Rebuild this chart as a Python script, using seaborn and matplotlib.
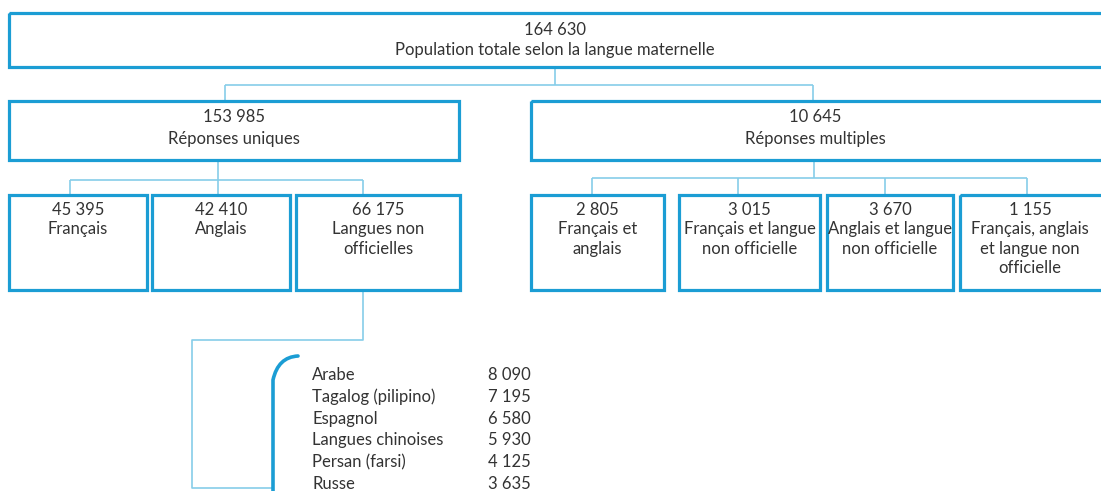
import numpy as np
import matplotlib.pyplot as plt
import seaborn as sns
from matplotlib.patches import Rectangle, PathPatch
from matplotlib.path import Path

sns.set_theme(style="white")
plt.rcParams['font.family'] = ['Lato', 'DejaVu Sans']

# Data
total_value = "164 630"
total_label = "Population totale selon la langue maternelle"
level2_values = ["153 985", "10 645"]
level2_labels = ["Réponses uniques", "Réponses multiples"]
single_values = ["45 395", "42 410", "66 175"]
single_labels = ["Français", "Anglais", "Langues non\nofficielles"]
multi_values = ["2 805", "3 015", "3 670", "1 155"]
multi_labels = ["Français et\nanglais", "Français et langue\nnon officielle",
                "Anglais et langue\nnon officielle",
                "Français, anglais\net langue non\nofficielle"]
languages = ["Arabe", "Tagalog (pilipino)", "Espagnol", "Langues chinoises",
             "Persan (farsi)", "Russe"]
language_counts = ["8 090", "7 195", "6 580", "5 930", "4 125", "3 635"]

# Layout (pixel coordinates)
BOX = "#1b9dd4"
LINK = "#86cde9"
TXT = "#333333"
FS = 12

fig = plt.figure(figsize=(11.01, 4.91), dpi=100)
ax = fig.add_axes([0, 0, 1, 1])
ax.set_xlim(0, 1101)
ax.set_ylim(491, 0)
ax.axis('off')


def box(x0, x1, y0, y1):
    ax.add_patch(Rectangle((x0, y0), x1 - x0, y1 - y0, fill=False,
                           edgecolor=BOX, lw=2.3, zorder=3))


def link(xs, ys):
    ax.plot(xs, ys, color=LINK, lw=1.2, zorder=2, solid_capstyle='butt')


def lines(cx, y0, step, text):
    for i, s in enumerate(text.split("\n")):
        ax.text(cx, y0 + i * step, s, ha='center', va='center',
                fontsize=FS, color=TXT)


# level 1
box(9, 1110, 13, 67)
lines(555, 30, 20, total_value + "\n" + total_label)

# level 2
l2_boxes = [(9, 459), (531, 1110)]
l2_centers = [234, 815]
l2_links = [225, 813]
link([555, 555], [67, 85])
link([225, 813], [85, 85])
for (x0, x1), cx, lx, v, lab in zip(l2_boxes, l2_centers, l2_links,
                                    level2_values, level2_labels):
    link([lx, lx], [85, 101])
    box(x0, x1, 101, 160)
    lines(cx, 117, 22, v + "\n" + lab)

# level 3 - single responses
s_boxes = [(9, 147), (152, 290), (296, 460)]
s_links = [70, 218, 363]
link([218, 218], [160, 180])
link([70, 363], [180, 180])
for (x0, x1), lx, v, lab in zip(s_boxes, s_links, single_values, single_labels):
    link([lx, lx], [180, 195])
    box(x0, x1, 195, 290)
    lines((x0 + x1) / 2, 210, 19.3, v + "\n" + lab)

# level 3 - multiple responses
m_boxes = [(531, 664), (679, 820), (827, 953), (960, 1110)]
m_links = [592, 738, 885, 1027]
link([814, 814], [160, 178])
link([592, 1027], [178, 178])
for (x0, x1), lx, v, lab in zip(m_boxes, m_links, multi_values, multi_labels):
    link([lx, lx], [178, 195])
    box(x0, x1, 195, 290)
    cx = (x0 + x1) / 2 if x1 < 1101 else 1030
    lines(cx, 210, 19.3, v + "\n" + lab)

# link down to the language list
link([363, 363, 192, 192, 272], [290, 340, 340, 488, 488])

# bracket
verts = [(298, 356), (278, 357), (273, 380), (273, 495)]
codes = [Path.MOVETO, Path.CURVE3, Path.CURVE3, Path.LINETO]
ax.add_patch(PathPatch(Path(verts, codes), fill=False, edgecolor=BOX,
                       lw=2.6, capstyle='round', zorder=3))

# language list
row_y = 375 + 21.8 * np.arange(len(languages))
for y, name, cnt in zip(row_y, languages, language_counts):
    ax.text(312, y, name, ha='left', va='center', fontsize=FS, color=TXT)
    ax.text(531, y, cnt, ha='right', va='center', fontsize=FS, color=TXT)

fig.savefig("out.png", dpi=100)
